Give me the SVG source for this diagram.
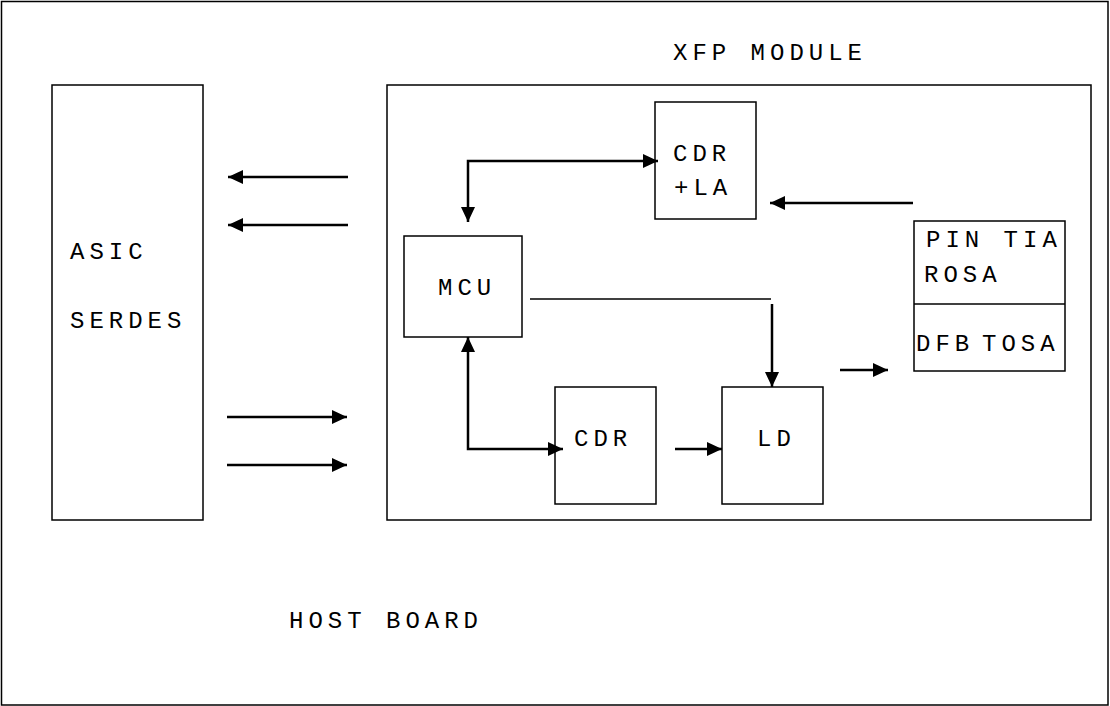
<svg xmlns="http://www.w3.org/2000/svg" width="1110" height="706" viewBox="0 0 1110 706">
<style>
.box{fill:none;stroke:#000;stroke-width:1.5}
.t{font-family:"Liberation Mono","Courier New",monospace;font-size:24px;letter-spacing:5px;fill:#000}
.w{fill:none;stroke:#000;stroke-width:2.5}
.thin{fill:none;stroke:#000;stroke-width:1.5}
</style>
<defs>
<marker id="ah" markerUnits="userSpaceOnUse" markerWidth="15" markerHeight="14" refX="15" refY="7" orient="auto-start-reverse" viewBox="0 0 15 14">
<path d="M0,0 L15,7 L0,14 z" fill="#000"/>
</marker>
</defs>
<rect width="1110" height="706" fill="#fff"/>
<g id="host-board">
<rect class="box" x="1.5" y="1.5" width="1106.5" height="703.5"/>
<text class="t" x="289" y="628">HOST BOARD</text>
</g>
<g id="asic-serdes">
<rect class="box" x="52" y="85" width="151" height="435"/>
<text class="t" x="70" y="259">ASIC</text>
<text class="t" x="70" y="328">SERDES</text>
</g>
<g id="xfp-module">
<rect class="box" x="387" y="85" width="704" height="435"/>
<text class="t" x="673" y="60">XFP MODULE</text>
</g>
<g id="cdr-la">
<rect class="box" x="655" y="102" width="101" height="117"/>
<text class="t" x="673" y="161">CDR</text>
<text class="t" x="674" y="195">+LA</text>
</g>
<g id="mcu">
<rect class="box" x="404" y="236" width="118" height="101"/>
<text class="t" x="438" y="295">MCU</text>
</g>
<g id="cdr">
<rect class="box" x="555" y="387" width="101" height="117"/>
<text class="t" x="574" y="446">CDR</text>
</g>
<g id="ld">
<rect class="box" x="722" y="387" width="101" height="117"/>
<text class="t" x="757" y="446">LD</text>
</g>
<g id="rosa-tosa">
<rect class="box" x="914" y="221" width="151" height="150"/>
<line class="box" x1="914" y1="304" x2="1065" y2="304"/>
<text class="t" x="926" y="247">PIN TIA</text>
<text class="t" x="924" y="282">ROSA</text>
<text class="t" x="916" y="351">DFB</text>
<text class="t" x="982" y="351">TOSA</text>
</g>
<g id="connectors">
<line class="w" x1="348" y1="177" x2="228" y2="177" marker-end="url(#ah)"/>
<line class="w" x1="348" y1="225" x2="228" y2="225" marker-end="url(#ah)"/>
<line class="w" x1="227" y1="417" x2="347" y2="417" marker-end="url(#ah)"/>
<line class="w" x1="227" y1="465" x2="347" y2="465" marker-end="url(#ah)"/>
<path class="w" d="M468,222 L468,161 L658,161" marker-start="url(#ah)" marker-end="url(#ah)"/>
<path class="w" d="M468,337 L468,449 L563,449" marker-start="url(#ah)" marker-end="url(#ah)"/>
<line class="w" x1="913" y1="203" x2="770" y2="203" marker-end="url(#ah)"/>
<line class="thin" x1="530" y1="299" x2="771" y2="299"/>
<line class="w" x1="772" y1="304" x2="772" y2="387" marker-end="url(#ah)"/>
<line class="w" x1="675" y1="449" x2="722" y2="449" marker-end="url(#ah)"/>
<line class="w" x1="840" y1="370" x2="888" y2="370" marker-end="url(#ah)"/>
</g>
</svg>
